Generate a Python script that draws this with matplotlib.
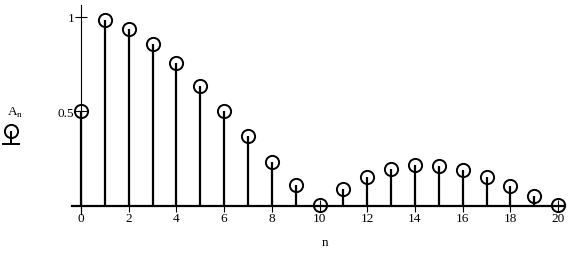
import matplotlib
matplotlib.use("Agg")
import matplotlib.pyplot as plt
from matplotlib.container import StemContainer
from matplotlib.legend_handler import HandlerStem

# ── Data ───────────────────────────────────────────────────────────
n_values = list(range(21))
a_values = [0.50, 0.985, 0.935, 0.858, 0.757, 0.637, 0.505, 0.370, 0.235,
            0.110, 0.005, 0.090, 0.156, 0.198, 0.217, 0.213, 0.190, 0.152,
            0.105, 0.052, 0.005]

x_ticks = list(range(0, 21, 2))
y_ticks = [0.5, 1]
y_tick_labels = ["0.5", "1"]

plt.rcParams["font.family"] = ["Liberation Serif", "DejaVu Serif"]

# ── Figure ─────────────────────────────────────────────────────────
W, H = 574, 255
fig = plt.figure(figsize=(W / 100, H / 100), dpi=100)
ax = fig.add_axes([72 / W, 1 - 215 / H, (565 - 72) / W, (215 - 6) / H])

stem = ax.stem(n_values, a_values, basefmt="k-")
markers, stems, base = stem
stems.set_color("black")
stems.set_linewidth(1.6)
base.set_linewidth(1.4)
markers.set_marker("o")
markers.set_markersize(9.5)
markers.set_markerfacecolor("none")
markers.set_markeredgecolor("black")
markers.set_markeredgewidth(1.4)

ax.set_xlim(-0.377, 20.29)
ax.set_ylim(-0.042, 1.063)

for side in ("top", "right"):
    ax.spines[side].set_visible(False)
ax.spines["left"].set_position(("data", 0))
ax.spines["bottom"].set_position(("data", 0))
ax.spines["left"].set_linewidth(0.8)
ax.spines["bottom"].set_linewidth(1.6)

ax.set_xticks(x_ticks)
ax.set_yticks(y_ticks)
ax.set_yticklabels(y_tick_labels)
ax.tick_params(axis="x", direction="inout", length=9, width=0.8, pad=0,
               labelsize=9.5)
ax.tick_params(axis="y", direction="inout", length=8, width=0.8, pad=1,
               labelsize=9.5)

fig.text(325 / W, 1 - 243 / H, "n", ha="center", va="center", fontsize=9.5)
fig.text(15 / W, 1 - 113 / H, "A$_\\mathregular{n}$", ha="center",
         va="center", fontsize=9.5)

# legend glyph under the A_n label
leg = ax.legend([stem], [""], loc="lower center",
                bbox_to_anchor=(11 / W, 1 - 148 / H),
                bbox_transform=fig.transFigure, frameon=False,
                handler_map={StemContainer: HandlerStem(numpoints=1, bottom=0,
                                                        yoffsets=[1.3])},
                handlelength=1.15, handleheight=0.7, handletextpad=0,
                borderpad=0, borderaxespad=0)

fig.savefig("out.png", dpi=100)
